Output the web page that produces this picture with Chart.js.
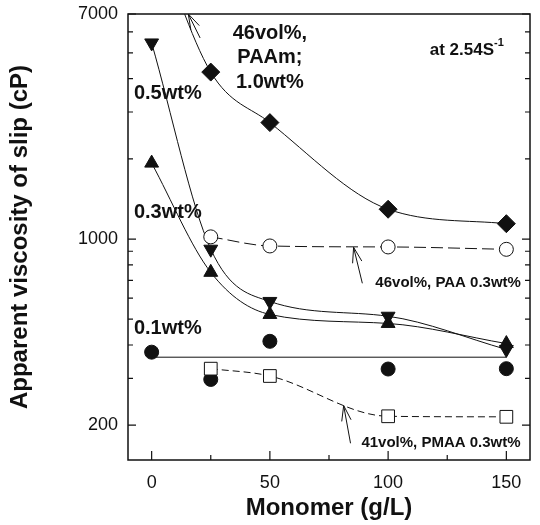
<!DOCTYPE html>
<html>
<head>
<meta charset="utf-8">
<script src="https://cdn.jsdelivr.net/npm/chart.js@4.4.1/dist/chart.umd.min.js"></script>
<style>
html, body { margin: 0; padding: 0; background: #fff; }
#wrap { width: 540px; height: 525px; }
</style>
</head>
<body>
<div id="wrap"><canvas id="chart"></canvas></div>
<script>
// --- data ---
const monomer = [0, 25, 50, 100, 150];
const monomerNoZero = [25, 50, 100, 150];
const paam10 = [15000, 4236, 2737, 1294, 1142];   // 46vol%, PAAm 1.0wt% (first point above frame)
const paa03 = [1019, 942, 934, 915];              // 46vol%, PAA 0.3wt%
const wt05 = [5450, 916, 583, 513, 385];
const wt03 = [1928, 750, 521, 482, 405];
const wt01 = [376, 297, 413, 325, 326];
const wt01FitX = [0, 150];
const wt01Fit = [360, 360];
const pmaa03 = [326, 306, 216, 215];              // 41vol%, PMAA 0.3wt%

const xTicks = [0, 25, 50, 75, 100, 125, 150];
const xLabels = [0, 50, 100, 150];
const yTicks = [200, 300, 400, 500, 600, 700, 800, 900, 1000, 2000, 3000, 4000, 5000, 6000, 7000];
const yLabels = [200, 1000, 7000];

const pts = (xs, ys) => xs.map((x, i) => ({ x: x, y: ys[i] }));
const INK = '#111';
const FONT = '"Liberation Sans", Arial, sans-serif';

// text notes and arrows, placed in data units
const notes = [
    { t: '46vol%,', x: 50, y: 5940, size: 20, align: 'center' },
    { t: 'PAAm;', x: 50, y: 4820, size: 20, align: 'center' },
    { t: '1.0wt%', x: 50, y: 3880, size: 20, align: 'center' },
    { t: '0.5wt%', x: -7.5, y: 3530, size: 20, align: 'left' },
    { t: '0.3wt%', x: -7.5, y: 1262, size: 20, align: 'left' },
    { t: '0.1wt%', x: -7.5, y: 463, size: 20, align: 'left' },
    { t: '46vol%, PAA 0.3wt%', x: 94.6, y: 687, size: 15, align: 'left' },
    { t: '41vol%, PMAA 0.3wt%', x: 88.7, y: 171, size: 15, align: 'left' }
];
const arrows = [
    { x0: 20.5, y0: 5690, x1: 15.5, y1: 7000 },
    { x0: 89.1, y0: 682, x1: 85.4, y1: 931 },
    { x0: 84.1, y0: 171, x1: 81.2, y1: 237 }
];

const framePlugin = {
    id: 'frame',
    afterDraw(chart) {
        const { ctx, chartArea: a, scales: { x, y } } = chart;
        ctx.save();
        ctx.strokeStyle = INK;
        ctx.lineWidth = 1.5;
        ctx.strokeRect(a.left, a.top, a.right - a.left, a.bottom - a.top);

        // inward ticks
        ctx.lineWidth = 1.2;
        ctx.beginPath();
        x.ticks.forEach(t => {
            const px = x.getPixelForValue(t.value);
            const len = xLabels.includes(t.value) ? 9 : 5;
            ctx.moveTo(px, a.bottom); ctx.lineTo(px, a.bottom - len);
        });
        y.ticks.forEach(t => {
            const py = y.getPixelForValue(t.value);
            const len = yLabels.includes(t.value) ? 8 : 5;
            ctx.moveTo(a.left, py); ctx.lineTo(a.left + len, py);
            ctx.moveTo(a.right, py); ctx.lineTo(a.right - len, py);
        });
        ctx.stroke();

        // notes
        ctx.fillStyle = INK;
        ctx.textBaseline = 'middle';
        notes.forEach(n => {
            ctx.font = 'bold ' + n.size + 'px ' + FONT;
            ctx.textAlign = n.align;
            ctx.fillText(n.t, x.getPixelForValue(n.x), y.getPixelForValue(n.y));
        });

        // shear rate note with superscript
        ctx.textAlign = 'left';
        ctx.font = 'bold 17px ' + FONT;
        const sx = x.getPixelForValue(117.6), sy = y.getPixelForValue(5125);
        const main = 'at 2.54S';
        ctx.fillText(main, sx, sy);
        const w = ctx.measureText(main).width;
        ctx.font = 'bold 11px ' + FONT;
        ctx.fillText('-1', sx + w, sy - 7);

        // arrows
        ctx.lineWidth = 1;
        arrows.forEach(ar => {
            const x0 = x.getPixelForValue(ar.x0), y0 = y.getPixelForValue(ar.y0);
            const x1 = x.getPixelForValue(ar.x1), y1 = y.getPixelForValue(ar.y1);
            const ang = Math.atan2(y1 - y0, x1 - x0);
            ctx.beginPath();
            ctx.moveTo(x0, y0); ctx.lineTo(x1, y1);
            [-0.3, 0.3].forEach(d => {
                ctx.moveTo(x1, y1);
                ctx.lineTo(x1 - 16 * Math.cos(ang + d), y1 - 16 * Math.sin(ang + d));
            });
            ctx.stroke();
        });
        ctx.restore();
    }
};

const base = { showLine: true, borderColor: INK, borderWidth: 1, cubicInterpolationMode: 'monotone', pointBorderColor: INK, pointBorderWidth: 1 };

new Chart(document.getElementById('chart'), {
    type: 'scatter',
    data: {
        datasets: [
            Object.assign({}, base, { label: '41vol%, PMAA 0.3wt%', data: pts(monomerNoZero, pmaa03), pointStyle: 'rect', pointRadius: 9, pointBackgroundColor: '#fff', borderDash: [7, 4] }),
            Object.assign({}, base, { label: '46vol%, PAA 0.3wt%', data: pts(monomerNoZero, paa03), pointStyle: 'circle', pointRadius: 7, pointBackgroundColor: '#fff', borderDash: [12, 5] }),
            Object.assign({}, base, { label: '46vol%, PAAm 1.0wt%', data: pts(monomer, paam10), pointStyle: 'rectRot', pointRadius: 9, pointBackgroundColor: INK }),
            Object.assign({}, base, { label: '0.5wt%', data: pts(monomer, wt05), pointStyle: 'triangle', rotation: 180, pointRadius: 8, pointBackgroundColor: INK }),
            Object.assign({}, base, { label: '0.3wt%', data: pts(monomer, wt03), pointStyle: 'triangle', pointRadius: 8, pointBackgroundColor: INK }),
            Object.assign({}, base, { label: '0.1wt%', data: pts(monomer, wt01), showLine: false, pointStyle: 'circle', pointRadius: 7, pointBackgroundColor: INK }),
            Object.assign({}, base, { label: '0.1wt% fit', data: pts(wt01FitX, wt01Fit), pointRadius: 0 })
        ]
    },
    plugins: [framePlugin],
    options: {
        responsive: true,
        maintainAspectRatio: false,
        animation: false,
        layout: { padding: { left: 0, right: 7, top: 14, bottom: 0 } },
        plugins: { legend: { display: false }, tooltip: { enabled: false } },
        scales: {
            x: {
                type: 'linear', min: -10, max: 160,
                afterFit: s => { s.height = 65; s.paddingLeft = 0; s.paddingRight = 0; },
                afterBuildTicks: s => { s.ticks = xTicks.map(v => ({ value: v })); },
                grid: { display: false, drawTicks: false },
                border: { display: false },
                ticks: {
                    padding: 12, color: INK, maxRotation: 0, autoSkip: false,
                    font: { family: FONT, size: 18 },
                    callback: v => xLabels.includes(v) ? String(v) : ''
                },
                title: {
                    display: true, text: 'Monomer (g/L)', color: INK,
                    padding: { top: 0, bottom: 2 },
                    font: { family: FONT, size: 24, weight: 'bold' }
                }
            },
            y: {
                type: 'logarithmic', min: 148, max: 7000,
                afterFit: s => { s.width = 128; s.paddingTop = 0; s.paddingBottom = 0; },
                afterBuildTicks: s => { s.ticks = yTicks.map(v => ({ value: v })); },
                grid: { display: false, drawTicks: false },
                border: { display: false },
                ticks: {
                    padding: 10, color: INK, autoSkip: false,
                    font: { family: FONT, size: 18 },
                    callback: v => yLabels.includes(v) ? String(v) : ''
                },
                title: {
                    display: true, text: 'Apparent viscosity of slip (cP)', color: INK,
                    padding: { top: 6, bottom: 0 },
                    font: { family: FONT, size: 24, weight: 'bold' }
                }
            }
        }
    }
});
</script>
</body>
</html>
